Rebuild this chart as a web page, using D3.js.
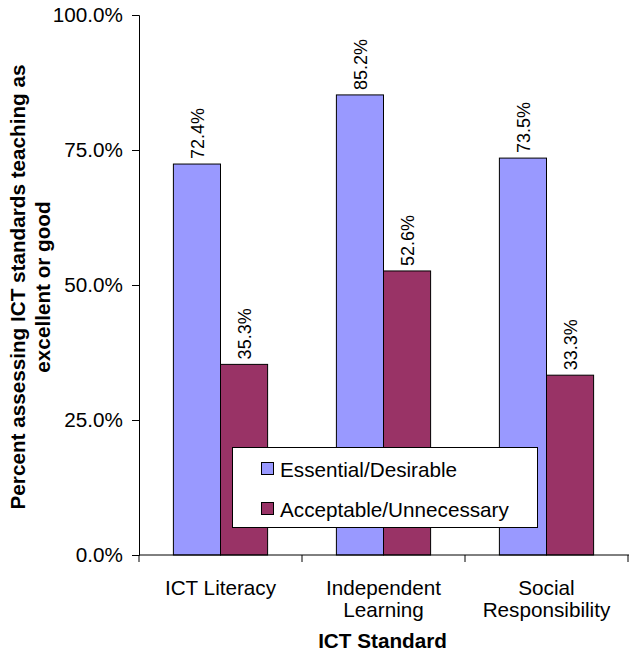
<!DOCTYPE html>
<html>
<head>
<meta charset="utf-8">
<script src="https://cdn.jsdelivr.net/npm/d3@7"></script>
<style>
  html, body { margin: 0; padding: 0; background: #fff; }
  svg { display: block; font-family: Arial, "Liberation Sans", sans-serif; }
</style>
</head>
<body>
<svg id="chart" width="629" height="652"></svg>
<script>
// Survey results: share rating ICT standards teaching as excellent or good
const categories = [["ICT Literacy"], ["Independent", "Learning"], ["Social", "Responsibility"]];
const seriesNames = ["Essential/Desirable", "Acceptable/Unnecessary"];
const essential = [72.4, 85.2, 73.5];
const acceptable = [35.3, 52.6, 33.3];
const yTicks = [0, 25, 50, 75, 100];
const colors = ["#9999FF", "#993366"];

const seriesValues = [essential, acceptable];
const catKeys = categories.map(c => c.join(" "));
const FONT = 20.7;

const svg = d3.select("#chart");
const plot = { left: 139, right: 628, top: 15, bottom: 555 };

const y = d3.scaleLinear().domain([0, 100]).range([plot.bottom, plot.top]);
const x0 = d3.scaleBand().domain(catKeys).range([plot.left, plot.right]);
const x1 = d3.scaleBand().domain(seriesNames)
  .range([x0.bandwidth() * 0.211, x0.bandwidth() * 0.789]);

// Bars
const groups = svg.append("g").selectAll("g")
  .data(catKeys)
  .join("g")
  .attr("transform", d => `translate(${x0(d)},0)`);

groups.selectAll("rect")
  .data((d, i) => seriesNames.map((s, j) => ({ s, v: seriesValues[j][i], j })))
  .join("rect")
  .attr("x", d => x1(d.s))
  .attr("y", d => y(d.v))
  .attr("width", x1.bandwidth())
  .attr("height", d => y(0) - y(d.v))
  .attr("fill", d => colors[d.j])
  .attr("stroke", "#000")
  .attr("stroke-width", 1);

// Value labels, rotated above each bar
groups.selectAll("text.val")
  .data((d, i) => seriesNames.map((s, j) => ({ s, v: seriesValues[j][i] })))
  .join("text")
  .attr("class", "val")
  .attr("transform", d => `translate(${x1(d.s) + x1.bandwidth() / 2 + 1},${y(d.v) - 5}) rotate(-90)`)
  .attr("dy", "0.35em")
  .attr("font-size", 18)
  .attr("fill", "#000")
  .text(d => d.v.toFixed(1) + "%");

// Y axis
const yAxis = d3.axisLeft(y).tickValues(yTicks)
  .tickFormat(d => d.toFixed(1) + "%")
  .tickSize(7).tickPadding(9);
const gy = svg.append("g").attr("transform", `translate(${plot.left},0)`).call(yAxis);
gy.select(".domain").attr("stroke", "#000");
gy.selectAll(".tick line").attr("stroke", "#000");
gy.selectAll(".tick text").attr("font-size", FONT).attr("font-family", "Arial, 'Liberation Sans', sans-serif").attr("fill", "#000");

// X axis with ticks at category boundaries
svg.append("line")
  .attr("x1", plot.left).attr("x2", plot.right + 1)
  .attr("y1", plot.bottom).attr("y2", plot.bottom)
  .attr("stroke", "#000");
const bounds = catKeys.map(k => x0(k)).concat([x0(catKeys[catKeys.length - 1]) + x0.bandwidth()]);
svg.append("g").selectAll("line")
  .data(bounds)
  .join("line")
  .attr("x1", d => d).attr("x2", d => d)
  .attr("y1", plot.bottom).attr("y2", plot.bottom + 7)
  .attr("stroke", "#000");

// Category labels
const catText = svg.append("g").selectAll("text")
  .data(categories)
  .join("text")
  .attr("text-anchor", "middle")
  .attr("font-size", FONT)
  .attr("fill", "#000")
  .attr("x", (d, i) => x0(catKeys[i]) + x0.bandwidth() / 2)
  .attr("y", 595);
catText.selectAll("tspan")
  .data(d => d)
  .join("tspan")
  .attr("x", function () { return d3.select(this.parentNode).attr("x"); })
  .attr("dy", (d, i) => i === 0 ? 0 : 22)
  .text(d => d);

// Axis titles
svg.append("text")
  .attr("x", (plot.left + plot.right) / 2 - 1)
  .attr("y", 648)
  .attr("text-anchor", "middle")
  .attr("font-size", FONT)
  .attr("font-weight", "bold")
  .text("ICT Standard");

const yTitle = svg.append("text")
  .attr("transform", "translate(0,287) rotate(-90)")
  .attr("text-anchor", "middle")
  .attr("font-size", FONT)
  .attr("font-weight", "bold");
yTitle.append("tspan").attr("x", 0).attr("y", 25).text("Percent assessing ICT standards teaching as");
yTitle.append("tspan").attr("x", 0).attr("y", 50).text("excellent or good");

// Legend
const legend = svg.append("g");
legend.append("rect")
  .attr("x", 232.5).attr("y", 447.5)
  .attr("width", 305).attr("height", 80)
  .attr("fill", "#fff").attr("stroke", "#000");
const items = legend.selectAll("g.item")
  .data(seriesNames)
  .join("g")
  .attr("class", "item")
  .attr("transform", (d, i) => `translate(261,${462 + i * 40})`);
items.append("rect")
  .attr("x", 0.5).attr("y", 0.5)
  .attr("width", 12).attr("height", 12)
  .attr("fill", (d, i) => colors[i])
  .attr("stroke", "#000");
items.append("text")
  .attr("x", 19).attr("y", 14.5)
  .attr("font-size", FONT)
  .attr("fill", "#000")
  .text(d => d);
</script>
</body>
</html>
